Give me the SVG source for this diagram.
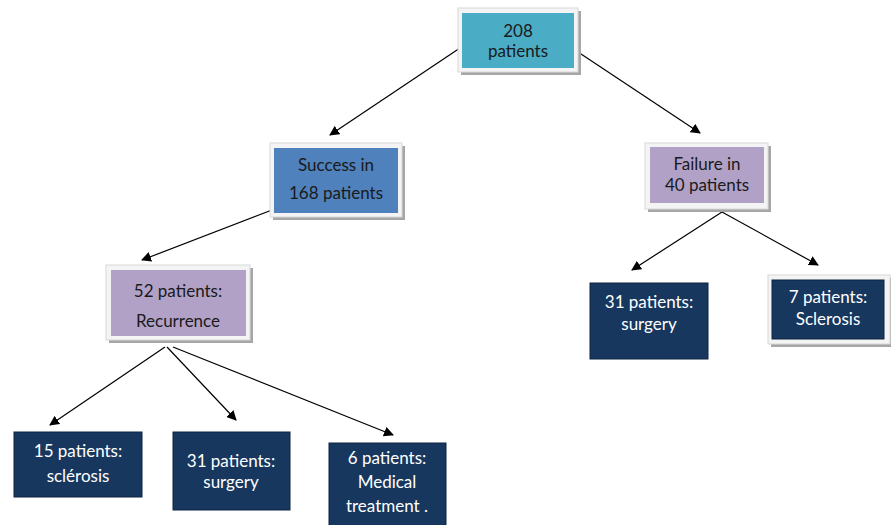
<svg xmlns="http://www.w3.org/2000/svg" width="891" height="525" viewBox="0 0 891 525">
<defs>
<marker id="ah" viewBox="0 0 10 10" refX="9" refY="5" markerWidth="10" markerHeight="10" markerUnits="userSpaceOnUse" orient="auto">
<path d="M0,0 L10,5 L0,10 z" fill="#000"/>
</marker>
</defs>
<style>
.frame{fill:#f4f4f4;stroke:#d8d8d8;stroke-width:1}
.shadow{fill:#a6a6a6}
.t{font-family:Lato,"Liberation Sans",sans-serif;font-size:17px;text-anchor:middle}
.dk{fill:#1a1a1a}
.wt{fill:#ffffff}
.navy{fill:#17375e;stroke:#0f2440;stroke-width:1}
.conn line{stroke:#000;stroke-width:1.2;marker-end:url(#ah)}
</style>
<rect width="891" height="525" fill="#fff"/>
<g class="conn">
<line x1="460" y1="48" x2="330" y2="135"/>
<line x1="578" y1="52" x2="700" y2="133"/>
<line x1="272" y1="210" x2="142" y2="260"/>
<line x1="165" y1="347" x2="50" y2="425"/>
<line x1="167" y1="347" x2="236" y2="420"/>
<line x1="173" y1="347" x2="393" y2="435"/>
<line x1="722" y1="212" x2="632" y2="270"/>
<line x1="722" y1="212" x2="818" y2="265"/>
</g>
<g id="n208">
<rect class="shadow" x="461" y="11" width="120" height="64"/>
<rect class="frame" x="458" y="8" width="120" height="64"/>
<rect x="462" y="13" width="112" height="55" fill="#4bacc6"/>
<text class="t dk" x="518" y="37">208</text>
<text class="t dk" x="518" y="57">patients</text>
</g>
<g id="nsuccess">
<rect class="shadow" x="273" y="146" width="132" height="74"/>
<rect class="frame" x="270" y="143" width="132" height="74"/>
<rect x="274" y="148" width="124" height="65" fill="#4f81bd"/>
<text class="t dk" x="336" y="171">Success in</text>
<text class="t dk" x="336" y="199">168 patients</text>
</g>
<g id="nrecur">
<rect class="shadow" x="109" y="268" width="144" height="75"/>
<rect class="frame" x="106" y="265" width="144" height="75"/>
<rect x="111" y="270" width="135" height="66" fill="#b2a1c7"/>
<text class="t dk" x="178" y="297">52 patients:</text>
<text class="t dk" x="178" y="327">Recurrence</text>
</g>
<g id="nfailure">
<rect class="shadow" x="648" y="146" width="123" height="66"/>
<rect class="frame" x="645" y="143" width="123" height="66"/>
<rect x="650" y="147" width="114" height="56" fill="#b2a1c7"/>
<text class="t dk" x="707" y="170">Failure in</text>
<text class="t dk" x="707" y="191">40 patients</text>
</g>
<g id="nscl15">
<rect class="navy" x="14" y="432" width="128" height="65"/>
<text class="t wt" x="78" y="457">15 patients:</text>
<text class="t wt" x="78" y="482">sclérosis</text>
</g>
<g id="nsurg31a">
<rect class="navy" x="173" y="432" width="117" height="78"/>
<text class="t wt" x="231" y="467">31 patients:</text>
<text class="t wt" x="231" y="488">surgery</text>
</g>
<g id="nmed6">
<rect class="navy" x="329" y="443" width="117" height="90"/>
<text class="t wt" x="387" y="464">6 patients:</text>
<text class="t wt" x="387" y="488">Medical</text>
<text class="t wt" x="387" y="512">treatment .</text>
</g>
<g id="nsurg31b">
<rect class="navy" x="590" y="283" width="118" height="76"/>
<text class="t wt" x="649" y="308">31 patients:</text>
<text class="t wt" x="649" y="330">surgery</text>
</g>
<g id="nscl7">
<rect class="shadow" x="771" y="278" width="122" height="69"/>
<rect class="frame" x="768" y="275" width="122" height="69"/>
<rect class="navy" x="772" y="280" width="112" height="59"/>
<text class="t wt" x="828" y="303">7 patients:</text>
<text class="t wt" x="828" y="325">Sclerosis</text>
</g>
</svg>
